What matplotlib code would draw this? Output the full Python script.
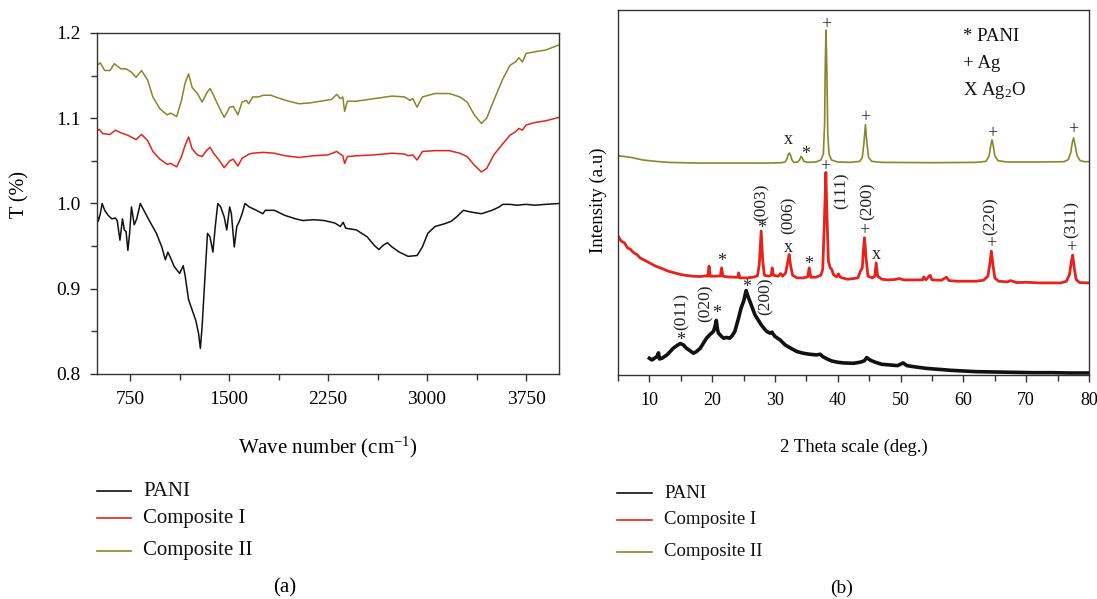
import matplotlib
matplotlib.use("Agg")
import matplotlib.pyplot as plt
from matplotlib.ticker import MultipleLocator
from matplotlib.lines import Line2D

plt.rcParams['font.family'] = ['Liberation Serif', 'DejaVu Serif']
plt.rcParams['mathtext.default'] = 'regular'

# ---------------- data ----------------
series_labels = ["PANI", "Composite I", "Composite II"]
series_colors = ["#111111", "#e5231c", "#87872a"]

# FTIR (panel a)
ftir_pani_wn = [500, 509, 525, 539, 558, 585, 612, 639, 653, 674, 693, 707, 720, 734, 747, 761,
                782, 801, 828, 855, 896, 950, 991, 1018, 1037, 1058, 1085, 1126, 1153, 1167, 1194,
                1221, 1248, 1269, 1283, 1296, 1315, 1337, 1356, 1378, 1396, 1415, 1437, 1464, 1483,
                1505, 1518, 1540, 1559, 1578, 1599, 1621, 1653, 1708, 1756, 1775, 1843, 1924, 2005,
                2059, 2140, 2222, 2303, 2343, 2365, 2384, 2465, 2546, 2600, 2635, 2668, 2700, 2735,
                2790, 2857, 2925, 2965, 3006, 3060, 3128, 3182, 3222, 3276, 3331, 3412, 3493, 3547,
                3574, 3628, 3682, 3750, 3818, 3899, 4000]
ftir_pani_t = [0.988, 0.979, 0.988, 1.000, 0.992, 0.986, 0.982, 0.983, 0.980, 0.957, 0.982, 0.969,
               0.967, 0.945, 0.965, 0.996, 0.975, 0.982, 1.000, 0.992, 0.980, 0.965, 0.949, 0.934,
               0.943, 0.936, 0.926, 0.918, 0.927, 0.916, 0.887, 0.875, 0.863, 0.848, 0.830, 0.855,
               0.906, 0.965, 0.961, 0.943, 0.973, 1.000, 0.996, 0.984, 0.969, 0.996, 0.988, 0.949,
               0.973, 0.979, 0.988, 1.000, 0.996, 0.992, 0.988, 0.992, 0.992, 0.986, 0.982, 0.980,
               0.981, 0.980, 0.977, 0.973, 0.978, 0.971, 0.969, 0.961, 0.951, 0.946, 0.951, 0.954,
               0.949, 0.943, 0.938, 0.939, 0.949, 0.965, 0.973, 0.976, 0.979, 0.984, 0.992, 0.990,
               0.988, 0.992, 0.996, 0.999, 0.999, 0.998, 0.999, 0.998, 0.999, 1.000]

ftir_c1_wn = [500, 517, 544, 599, 639, 680, 734, 796, 837, 883, 923, 977, 1031, 1058, 1104, 1140,
              1167, 1194, 1221, 1261, 1296, 1329, 1356, 1383, 1424, 1464, 1505, 1532, 1567, 1599,
              1653, 1681, 1762, 1843, 1924, 2032, 2140, 2249, 2316, 2343, 2362, 2376, 2397, 2465,
              2600, 2735, 2830, 2857, 2892, 2925, 2965, 3060, 3168, 3249, 3304, 3358, 3412, 3452,
              3506, 3574, 3628, 3669, 3696, 3723, 3750, 3818, 3899, 4000]
ftir_c1_t = [1.085, 1.087, 1.082, 1.081, 1.086, 1.083, 1.080, 1.075, 1.081, 1.074, 1.061, 1.052,
             1.046, 1.047, 1.043, 1.055, 1.068, 1.078, 1.064, 1.057, 1.055, 1.062, 1.066, 1.059,
             1.051, 1.042, 1.050, 1.052, 1.044, 1.053, 1.058, 1.059, 1.060, 1.059, 1.056, 1.054,
             1.056, 1.057, 1.061, 1.058, 1.056, 1.047, 1.055, 1.056, 1.057, 1.059, 1.058, 1.056,
             1.057, 1.051, 1.061, 1.062, 1.062, 1.059, 1.055, 1.045, 1.037, 1.041, 1.057, 1.070,
             1.080, 1.084, 1.088, 1.086, 1.092, 1.095, 1.097, 1.101]

ftir_c2_wn = [500, 525, 558, 599, 631, 680, 720, 761, 796, 837, 883, 923, 977, 1031, 1058, 1104,
              1140, 1167, 1194, 1221, 1261, 1296, 1329, 1356, 1383, 1424, 1464, 1505, 1532, 1567,
              1599, 1632, 1648, 1681, 1721, 1762, 1816, 1870, 1951, 2032, 2113, 2194, 2276, 2316,
              2343, 2362, 2376, 2397, 2465, 2600, 2735, 2830, 2871, 2892, 2925, 2965, 3060, 3168,
              3249, 3304, 3358, 3412, 3452, 3506, 3574, 3628, 3669, 3696, 3723, 3750, 3818, 3899,
              4000]
ftir_c2_t = [1.162, 1.165, 1.156, 1.156, 1.164, 1.158, 1.158, 1.154, 1.148, 1.156, 1.145, 1.125,
             1.111, 1.104, 1.106, 1.102, 1.121, 1.141, 1.152, 1.136, 1.129, 1.119, 1.129, 1.135,
             1.127, 1.113, 1.101, 1.113, 1.114, 1.104, 1.119, 1.121, 1.117, 1.125, 1.125, 1.127,
             1.127, 1.124, 1.120, 1.117, 1.118, 1.120, 1.122, 1.128, 1.123, 1.125, 1.108, 1.120,
             1.120, 1.123, 1.126, 1.125, 1.121, 1.123, 1.113, 1.125, 1.129, 1.129, 1.125, 1.119,
             1.104, 1.094, 1.100, 1.121, 1.146, 1.162, 1.166, 1.171, 1.166, 1.176, 1.178, 1.180,
             1.186]

# XRD (panel b)
xrd_pani_2t = [10.0, 10.4, 11.2, 11.45, 11.6, 12.0, 12.8, 13.8, 14.4, 14.9, 15.4, 15.9, 16.5, 17.0,
               17.5, 18.1, 18.6, 19.1, 19.7, 20.2, 20.45, 20.65, 20.85, 21.0, 21.5, 21.8, 22.3, 22.8,
               23.2, 23.6, 24.2, 24.6, 25.0, 25.4, 25.6, 26.0, 26.4, 26.8, 27.3, 27.8, 28.3, 28.7,
               29.2, 29.5, 30.0, 30.8, 31.6, 32.5, 33.5, 34.5, 35.5, 36.6, 37.2, 37.6, 38.3, 39.0,
               40.0, 41.0, 42.5, 43.5, 44.2, 44.6, 45.2, 46.0, 47.0, 48.3, 49.5, 50.4, 51.0, 52.0,
               54.0, 56.0, 58.0, 60.0, 62.0, 65.0, 68.0, 71.0, 74.0, 77.0, 80.0]
xrd_pani_i = [5.0, 4.5, 5.5, 6.6, 4.8, 5.0, 6.0, 8.0, 8.8, 9.4, 9.0, 8.0, 7.2, 6.5, 7.0, 8.0, 9.5,
              11.0, 12.2, 13.0, 14.5, 16.3, 13.5, 12.5, 11.5, 11.0, 11.2, 11.0, 11.8, 13.0, 17.0,
              20.0, 22.0, 25.2, 24.0, 22.0, 20.0, 18.0, 16.5, 15.0, 13.8, 13.0, 12.5, 12.8, 11.5,
              10.5, 9.0, 8.0, 7.0, 6.5, 6.2, 6.0, 6.2, 5.5, 4.8, 4.2, 3.8, 3.6, 3.5, 3.8, 4.2, 5.2,
              4.4, 3.8, 3.2, 3.0, 2.8, 3.6, 2.8, 2.5, 2.0, 1.7, 1.4, 1.2, 1.0, 0.9, 0.8, 0.7, 0.7,
              0.6, 0.6]

xrd_c1_2t = [5.0, 5.5, 6.0, 6.5, 7.0, 7.5, 8.0, 8.5, 9.0, 9.5, 10.0, 11.0, 12.0, 13.0, 14.0, 15.0,
             16.0, 17.0, 18.0, 19.0, 19.3, 19.5, 19.7, 20.5, 21.3, 21.5, 21.7, 22.5, 23.5, 24.1, 24.2,
             24.4, 25.5, 26.5, 27.2, 27.5, 27.8, 28.05, 28.3, 29.0, 29.4, 29.55, 29.75, 30.5, 30.9,
             31.2, 31.7, 32.0, 32.25, 32.5, 32.8, 33.5, 34.5, 35.2, 35.45, 35.7, 36.5, 37.3, 37.6,
             37.85, 38.1, 38.3, 38.5, 38.8, 39.05, 39.3, 39.8, 40.1, 40.4, 41.5, 42.5, 43.2, 43.6,
             43.9, 44.05, 44.25, 44.5, 44.8, 45.5, 45.9, 46.1, 46.35, 47.0, 48.0, 49.0, 49.8, 50.5,
             52.0, 53.5, 53.7, 54.0, 54.7, 55.0, 56.5, 57.3, 57.7, 59.0, 60.5, 62.0, 63.2, 63.9, 64.2,
             64.45, 64.7, 65.0, 65.6, 67.0, 67.5, 68.5, 70.0, 72.0, 74.0, 75.5, 76.4, 76.9, 77.2,
             77.4, 77.65, 77.95, 78.5, 80.0]
xrd_c1_i = [41.5, 40.0, 39.5, 38.0, 37.5, 36.5, 36.0, 35.0, 34.5, 34.0, 33.5, 32.5, 31.8, 31.0, 30.5,
            30.0, 29.7, 29.5, 29.4, 29.6, 29.5, 32.5, 29.5, 29.5, 29.6, 32.0, 29.5, 29.3, 29.2, 29.2,
            30.5, 29.0, 29.0, 29.2, 29.6, 33.0, 43.0, 34.0, 29.8, 29.5, 29.8, 32.0, 29.8, 29.5, 30.3,
            29.5, 30.5, 33.5, 36.0, 32.5, 29.8, 29.0, 29.0, 29.3, 32.0, 29.2, 29.2, 29.8, 31.5, 45.0,
            60.5, 46.0, 34.0, 32.0, 31.5, 30.0, 29.3, 30.2, 29.2, 28.6, 28.8, 29.0, 31.0, 32.0, 36.5,
            41.0, 35.0, 29.5, 29.0, 29.5, 33.5, 29.5, 28.6, 28.4, 28.5, 28.8, 28.4, 28.4, 28.4, 29.3,
            28.4, 29.8, 28.4, 28.3, 29.2, 28.2, 28.0, 28.0, 28.0, 28.3, 29.5, 33.0, 37.0, 33.0, 29.0,
            28.0, 27.8, 28.2, 27.6, 27.7, 27.5, 27.5, 27.5, 28.0, 30.0, 34.0, 35.8, 32.0, 28.5, 27.6,
            27.5]

xrd_c2_2t = [5.0, 7.0, 9.0, 11.0, 13.0, 15.0, 17.5, 20.0, 25.0, 29.0, 31.0, 31.6, 31.9, 32.1, 32.3,
             32.5, 32.7, 33.0, 33.6, 33.9, 34.15, 34.35, 34.6, 35.2, 36.5, 37.3, 37.7, 37.9, 38.0,
             38.12, 38.25, 38.4, 38.6, 39.0, 40.0, 42.0, 43.5, 43.9, 44.15, 44.4, 44.65, 44.9, 45.4,
             47.0, 55.0, 62.0, 63.6, 64.1, 64.35, 64.55, 64.75, 65.0, 65.5, 67.0, 72.0, 76.0, 76.7,
             77.1, 77.35, 77.55, 77.8, 78.1, 78.6, 79.3, 80.0]
xrd_c2_i = [65.5, 65.0, 64.2, 63.8, 63.5, 63.4, 63.3, 63.3, 63.3, 63.3, 63.4, 63.6, 64.5, 65.8, 66.3,
            65.5, 64.2, 63.5, 63.6, 64.2, 65.3, 64.8, 63.8, 63.5, 63.6, 64.2, 66.0, 75.0, 92.0, 103.0,
            92.0, 72.0, 66.0, 64.2, 63.6, 63.5, 63.8, 65.0, 69.0, 74.8, 69.0, 65.0, 63.8, 63.5, 63.4,
            63.5, 63.8, 65.5, 68.5, 70.2, 68.5, 65.5, 64.0, 63.6, 63.6, 63.7, 64.3, 66.5, 69.5, 70.8,
            68.5, 65.5, 64.0, 63.7, 63.7]

# peak annotations: (text, 2theta, intensity, rotation)
xrd_marks = [
    ("+", 38.13, 104.6, 0), ("x", 32.1, 70.2, 0), ("*", 34.8, 65.8, 0), ("+", 44.4, 76.9, 0),
    ("+", 64.5, 72.1, 0), ("+", 77.5, 73.3, 0),
    ("+", 38.0, 62.1, 0), ("(111)", 40.62, 55.0, 90), ("+", 44.2, 43.1, 0), ("(200)", 44.7, 52.0, 90),
    ("x", 46.1, 36.0, 0), ("+", 64.4, 39.1, 0), ("(220)", 64.4, 47.5, 90), ("+", 77.2, 38.1, 0),
    ("(311)", 77.24, 46.5, 90), ("*", 27.8, 43.8, 0), ("(003)", 27.88, 51.5, 90),
    ("(006)", 32.13, 47.8, 90), ("x", 32.2, 38.2, 0), ("*", 21.5, 33.8, 0), ("*", 35.4, 33.0, 0),
    ("*", 15.0, 10.3, 0), ("(011)", 15.15, 19.0, 90), ("*", 20.7, 18.3, 0), ("(020)", 18.97, 21.3, 90),
    ("*", 25.5, 26.1, 0), ("(200)", 28.57, 23.5, 90),
]
key_texts = ["* PANI", "+ Ag", "X Ag$_2$O"]

# ---------------- figure ----------------
W, H = 1097, 599
fig = plt.figure(figsize=(W / 100, H / 100), dpi=100)

def px_rect(x0, y0, x1, y1):
    return [x0 / W, 1 - y1 / H, (x1 - x0) / W, (y1 - y0) / H]

spine_c = "#333333"

# Panel (a)
axa = fig.add_axes(px_rect(97, 33, 559, 374))
axa.plot(ftir_pani_wn, ftir_pani_t, color=series_colors[0], lw=1.1)
axa.plot(ftir_c1_wn, ftir_c1_t, color=series_colors[1], lw=1.1)
axa.plot(ftir_c2_wn, ftir_c2_t, color=series_colors[2], lw=1.1)
axa.set_xlim(500, 4000)
axa.set_ylim(0.8, 1.2)
axa.xaxis.set_major_locator(MultipleLocator(750))
axa.xaxis.set_minor_locator(MultipleLocator(375))
axa.yaxis.set_major_locator(MultipleLocator(0.1))
axa.yaxis.set_minor_locator(MultipleLocator(0.05))
axa.tick_params(which='both', direction='out', top=False, right=False, labelsize=14,
                color=spine_c, width=1.0)
axa.tick_params(which='major', length=5, pad=7)
axa.tick_params(which='minor', length=4)
axa.set_xlabel("Wave number (cm$^{-1}$)", fontsize=15, va='center')
axa.xaxis.set_label_coords(0.5, (374 - 447) / 341)
axa.set_ylabel("T (%)", fontsize=14.5, va='center')
axa.yaxis.set_label_coords((20 - 97) / 462, (374 - 195) / 341)

# Panel (b)
axb = fig.add_axes(px_rect(618, 10, 1089, 375))
axb.plot(xrd_pani_2t, xrd_pani_i, color=series_colors[0], lw=2.6)
axb.plot(xrd_c1_2t, xrd_c1_i, color=series_colors[1], lw=2.0)
axb.plot(xrd_c2_2t, xrd_c2_i, color=series_colors[2], lw=1.2)
axb.set_xlim(5, 80)
axb.set_ylim(0, 109)
axb.set_yticks([])
axb.xaxis.set_major_locator(MultipleLocator(10))
axb.xaxis.set_minor_locator(MultipleLocator(5))
axb.tick_params(which='both', direction='out', top=False, labelsize=13, color=spine_c, width=1.0)
axb.tick_params(which='major', length=5, pad=7)
axb.tick_params(which='minor', length=4)
axb.set_xlabel("2 Theta scale (deg.)", fontsize=13.5, va='center')
axb.xaxis.set_label_coords(0.5, (375 - 447) / 365)
axb.set_ylabel("Intensity (a.u)", fontsize=13.5, va='center')
axb.yaxis.set_label_coords((598 - 618) / 471, (375 - 200) / 365)

for ax in (axa, axb):
    for sp in ax.spines.values():
        sp.set_color(spine_c)
        sp.set_linewidth(1.0)

for txt, xx, yy, rot in xrd_marks:
    fs = 12.5 if txt.startswith("(") else 13
    axb.text(xx, yy, txt, rotation=rot, ha='center', va='center', fontsize=fs, color="#222222")

for k, txt in enumerate(key_texts):
    axb.text(59.9, 101.0 - 8.0 * k, txt, ha='left', va='center', fontsize=13.5, color="#111111")

# Legends below panels
def draw_legend(x_line0, x_line1, x_text, ys, fs):
    for lab, col, yy in zip(series_labels, series_colors, ys):
        fig.add_artist(Line2D([x_line0 / W, x_line1 / W], [1 - yy / H, 1 - yy / H],
                              color=col, lw=1.2, transform=fig.transFigure))
        fig.text(x_text / W, 1 - yy / H, lab, ha='left', va='center', fontsize=fs, color="#111111")

draw_legend(97, 131, 143, [491, 518, 551], 15)
draw_legend(617, 652, 664, [493, 520, 552], 13.5)

fig.text(285 / W, 1 - 588 / H, "(a)", ha='center', va='center', fontsize=15)
fig.text(842 / W, 1 - 588 / H, "(b)", ha='center', va='center', fontsize=14)

fig.savefig("out.png", dpi=100)
